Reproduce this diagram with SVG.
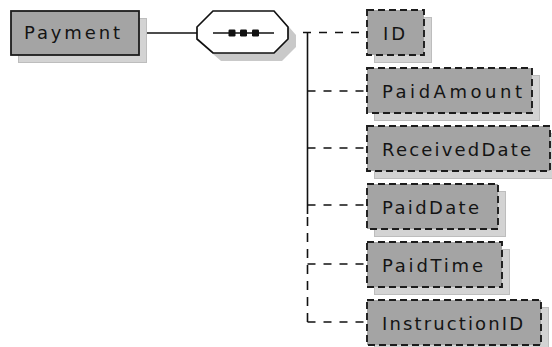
<svg xmlns="http://www.w3.org/2000/svg" width="552" height="347" viewBox="0 0 552 347">
<style>
.shadow{fill:#d3d3d3;stroke:#bdbdbd;stroke-width:1}
.box{fill:#a4a4a4;stroke:#1c1c1c;stroke-width:1.8}
.el{fill:#a4a4a4;stroke:#1c1c1c;stroke-width:1.9;stroke-dasharray:7,4}
.lbl{font-family:"DejaVu Sans",Verdana,sans-serif;font-size:18px;fill:#141414}
.solid{fill:none;stroke:#111;stroke-width:1.6}
.dash{fill:none;stroke:#111;stroke-width:1.6;stroke-dasharray:8,8}
</style>
<rect width="552" height="347" fill="#ffffff"/>
<g id="connectors">
<line class="solid" x1="139" y1="33" x2="197" y2="33"/>
<line class="solid" x1="288" y1="33" x2="292" y2="33"/>
<line class="solid" x1="307.5" y1="32.5" x2="307.5" y2="214"/>
<path class="dash" d="M307.5,322 V214" style="stroke-dasharray:9,7"/>
<path class="dash" d="M303,32.5 H366"/>
<path class="dash" d="M307.5,91 H366"/>
<path class="dash" d="M307.5,148 H366"/>
<path class="dash" d="M307.5,205 H366"/>
<path class="dash" d="M307.5,264 H366"/>
<path class="dash" d="M307.5,322 H366"/>
</g>
<g id="Payment">
<rect class="shadow" x="18.5" y="18.5" width="128" height="44"/>
<rect class="box" x="11" y="11" width="128" height="44"/>
<text class="lbl" x="24" y="38.5" textLength="96" lengthAdjust="spacing">Payment</text>
</g>
<g id="sequence">
<polygon points="221,19 282,19 296,35 296,47 282,61 221,61 205,47 205,35" fill="#c9c9c9"/>
<polygon points="213,11 274,11 288,27 288,39 274,53 213,53 197,39 197,27" fill="#ffffff" stroke="#111" stroke-width="1.7"/>
<line x1="213" y1="33" x2="274" y2="33" stroke="#111" stroke-width="1.7"/>
<rect x="228.5" y="29.5" width="7" height="7" rx="1.2" fill="#111"/>
<rect x="240" y="29.5" width="7" height="7" rx="1.2" fill="#111"/>
<rect x="252" y="29.5" width="7" height="7" rx="1.2" fill="#111"/>
</g>
<g id="ID">
<rect class="shadow" x="374.5" y="17.5" width="57" height="45"/>
<rect class="el" x="367" y="10" width="57" height="45"/>
<text class="lbl" x="383" y="40" textLength="22" lengthAdjust="spacing">ID</text>
</g>
<g id="PaidAmount">
<rect class="shadow" x="374.5" y="75.5" width="165" height="45"/>
<rect class="el" x="367" y="68" width="165" height="45"/>
<text class="lbl" x="382" y="98" textLength="140" lengthAdjust="spacing">PaidAmount</text>
</g>
<g id="ReceivedDate">
<rect class="shadow" x="374.5" y="133.5" width="183" height="45"/>
<rect class="el" x="367" y="126" width="183" height="45"/>
<text class="lbl" x="382" y="156" textLength="149" lengthAdjust="spacing">ReceivedDate</text>
</g>
<g id="PaidDate">
<rect class="shadow" x="374.5" y="191.5" width="131" height="45"/>
<rect class="el" x="367" y="184" width="131" height="45"/>
<text class="lbl" x="382" y="214" textLength="97" lengthAdjust="spacing">PaidDate</text>
</g>
<g id="PaidTime">
<rect class="shadow" x="374.5" y="249.5" width="135" height="45"/>
<rect class="el" x="367" y="242" width="135" height="45"/>
<text class="lbl" x="382" y="272" textLength="101" lengthAdjust="spacing">PaidTime</text>
</g>
<g id="InstructionID">
<rect class="shadow" x="374.5" y="307.5" width="174" height="45"/>
<rect class="el" x="367" y="300" width="174" height="45"/>
<text class="lbl" x="382" y="330" textLength="141" lengthAdjust="spacing">InstructionID</text>
</g>
</svg>
